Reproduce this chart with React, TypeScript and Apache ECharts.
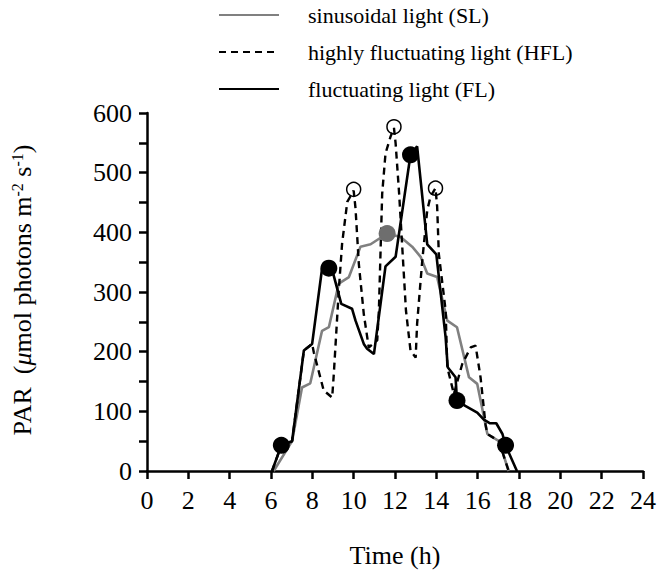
import React, { useEffect, useRef } from "react";
import * as echarts from "echarts";

const slHours = [6.13, 7.02, 7.5, 7.9, 8.47, 8.8, 9.28, 9.77, 10.33, 10.82, 11.62, 12.27, 12.83, 13.24, 13.56, 14.04, 14.53, 15.0, 15.58, 15.98, 16.47, 17.03, 17.5];
const slValues = [0, 50, 140, 147, 235, 241, 314, 325, 376, 380, 398, 392, 376, 359, 331, 325, 252, 241, 157, 146, 62, 50, 0];

const hflHours = [6.05, 6.5, 7.02, 7.59, 7.99, 8.07, 8.55, 8.96, 9.04, 9.28, 9.44, 9.69, 10.0, 10.09, 10.25, 10.49, 10.73, 11.14, 11.22, 11.38, 11.54, 11.78, 11.95, 12.03, 12.2, 12.36, 12.53, 12.75, 13.0, 13.07, 13.32, 13.56, 13.72, 13.96, 14.04, 14.12, 14.45, 14.53, 14.85, 15.25, 15.66, 15.9, 16.14, 16.38, 16.47, 17.03, 17.5];
const hflValues = [0, 43, 50, 202, 213, 199, 135, 123, 163, 303, 381, 451, 470, 440, 347, 263, 207, 219, 269, 465, 532, 560, 575, 549, 465, 370, 269, 202, 190, 247, 353, 437, 460, 474, 443, 364, 269, 174, 129, 179, 207, 210, 157, 78, 62, 50, 0];

const flHours = [6.05, 6.5, 7.02, 7.59, 7.99, 8.47, 8.9, 9.4, 9.92, 10.09, 10.49, 10.65, 10.98, 11.54, 12.03, 12.43, 12.75, 13.07, 13.56, 14.0, 14.45, 14.55, 14.93, 15.0, 15.4, 15.98, 16.3, 16.6, 16.9, 17.2, 17.35, 17.9];
const flValues = [0, 43, 50, 202, 213, 339, 345, 280, 272, 252, 213, 205, 196, 343, 359, 454, 530, 544, 380, 363, 224, 174, 157, 118, 109, 98, 86, 80, 80, 62, 43, 0];

const flDotHours = [6.5, 8.8, 12.75, 15.0, 17.35];
const flDotValues = [43, 340, 530, 118, 43];
const slDotHours = [11.62];
const slDotValues = [398];
const hflRingHours = [10.0, 11.95, 13.96];
const hflRingValues = [472, 577, 474];

const seriesNames = ["sinusoidal light (SL)", "highly fluctuating light (HFL)", "fluctuating light (FL)"];
const yTitle = "PAR  ({i|μ}mol photons m{sup|-2} s{sup|-1})";
const xTitle = "Time (h)";

const pairs = (xs: number[], ys: number[]) => xs.map((x, i) => [x, ys[i]]);

const FONT = "'Liberation Serif', 'Times New Roman', serif";

export default function App() {
  const ref = useRef<HTMLDivElement>(null);
  useEffect(() => {
    if (!ref.current) return;
    const chart = echarts.init(ref.current, null, { renderer: "svg" });
    chart.setOption({
      animation: false,
      backgroundColor: "#ffffff",
      textStyle: { fontFamily: FONT, color: "#000" },
      legend: {
        orient: "vertical",
        left: 213,
        top: -1,
        itemWidth: 60,
        itemHeight: 20,
        itemGap: 15,
        data: seriesNames,
        itemStyle: { opacity: 0 },
        textStyle: { fontFamily: FONT, fontSize: 22, lineHeight: 22, color: "#000", padding: [0, 0, 0, 24] },
      },
      graphic: [
        {
          type: "text",
          x: 22,
          y: 290,
          rotation: Math.PI / 2,
          style: {
            text: yTitle,
            fill: "#000",
            font: "26px " + FONT,
            align: "center",
            verticalAlign: "middle",
            rich: {
              i: { fontFamily: FONT, fontSize: 26, fontStyle: "italic", fill: "#000" },
              sup: { fontFamily: FONT, fontSize: 16, fill: "#000", verticalAlign: "top", padding: [0, 0, 10, 0] },
            },
          },
        },
        {
          type: "text",
          x: 395,
          y: 555,
          style: {
            text: xTitle,
            fill: "#000",
            font: "26px " + FONT,
            align: "center",
            verticalAlign: "middle",
          },
        },
      ],
      grid: { left: 147, right: 22, top: 113, bottom: 110, containLabel: false },
      xAxis: {
        type: "value",
        min: 0,
        max: 24,
        interval: 2,
        axisLine: { lineStyle: { color: "#000", width: 2.5 } },
        axisTick: { show: true, length: 8, lineStyle: { color: "#000", width: 2.5 } },
        axisLabel: { margin: 16, fontFamily: FONT, fontSize: 26, color: "#000" },
        splitLine: { show: false },
      },
      yAxis: {
        type: "value",
        min: 0,
        max: 600,
        interval: 100,
        axisLine: { show: true, lineStyle: { color: "#000", width: 2.5 } },
        axisTick: { show: true, length: 8, lineStyle: { color: "#000", width: 2.5 } },
        minorTick: { show: true, splitNumber: 2, length: 8, lineStyle: { color: "#000", width: 2.5 } },
        axisLabel: { margin: 15, fontFamily: FONT, fontSize: 26, color: "#000" },
        splitLine: { show: false },
      },
      series: [
        {
          name: seriesNames[0],
          type: "line",
          data: pairs(slHours, slValues),
          symbol: "none",
          lineStyle: { color: "#808080", width: 2.6 },
          itemStyle: { color: "#808080" },
          z: 2,
        },
        {
          name: seriesNames[1],
          type: "line",
          data: pairs(hflHours, hflValues),
          symbol: "none",
          lineStyle: { color: "#000", width: 2.4, type: [7, 5] },
          itemStyle: { color: "#000" },
          z: 3,
        },
        {
          name: seriesNames[2],
          type: "line",
          data: pairs(flHours, flValues),
          symbol: "none",
          lineStyle: { color: "#000", width: 2.6 },
          itemStyle: { color: "#000" },
          z: 4,
        },
        {
          name: "fl-dots",
          type: "scatter",
          data: pairs(flDotHours, flDotValues),
          symbol: "circle",
          symbolSize: 17,
          itemStyle: { color: "#000", opacity: 1 },
          z: 6,
        },
        {
          name: "sl-dots",
          type: "scatter",
          data: pairs(slDotHours, slDotValues),
          symbol: "circle",
          symbolSize: 17,
          itemStyle: { color: "#6e6e6e", opacity: 1 },
          z: 6,
        },
        {
          name: "hfl-rings",
          type: "scatter",
          data: pairs(hflRingHours, hflRingValues),
          symbol: "circle",
          symbolSize: 14,
          itemStyle: { color: "rgba(255,255,255,0)", borderColor: "#000", borderWidth: 1.5, opacity: 1 },
          z: 6,
        },
      ],
    });
    return () => chart.dispose();
  }, []);
  return <div ref={ref} style={{ width: 665, height: 581, margin: -8 }} />;
}
